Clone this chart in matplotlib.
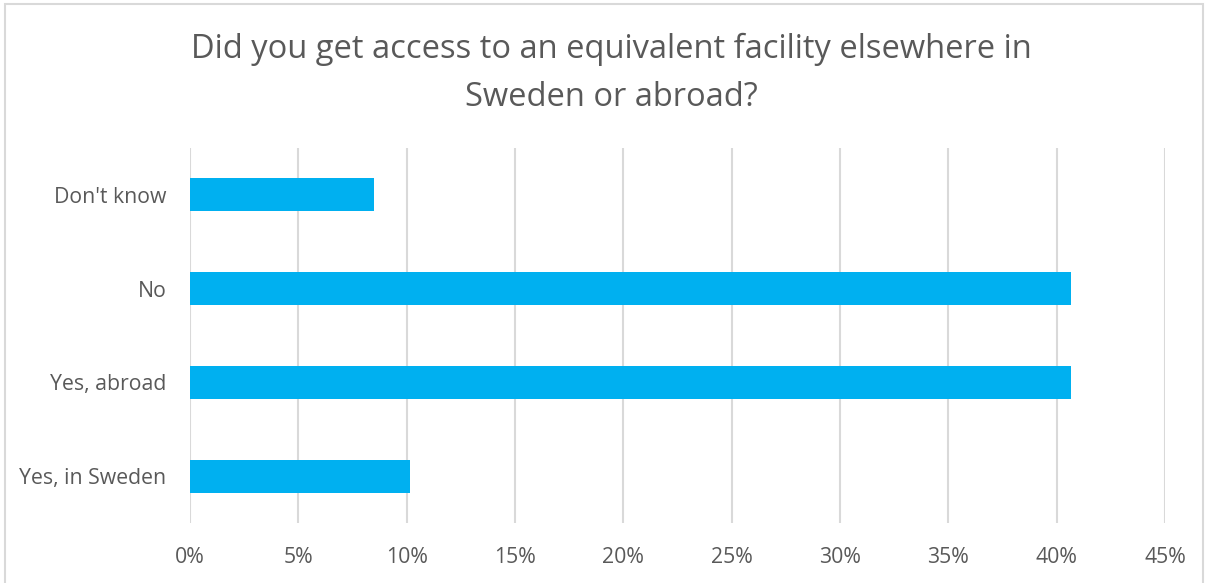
import matplotlib.pyplot as plt
from matplotlib.patches import Rectangle
from matplotlib.ticker import PercentFormatter

# survey answers (59 respondents)
categories = ["Yes, in Sweden", "Yes, abroad", "No", "Don't know"]
counts = [6, 24, 24, 5]
total = sum(counts)
shares = [c / total * 100 for c in counts]

title = "Did you get access to an equivalent facility elsewhere in\nSweden or abroad?"
text_color = "#595959"
bar_color = "#00B0F0"
grid_color = "#D9D9D9"

plt.rcParams['font.family'] = ['Open Sans', 'DejaVu Sans']

fig = plt.figure(figsize=(12.08, 5.83), dpi=100)
ax = fig.add_axes([190 / 1208, 1 - 523 / 583, 975 / 1208, 375 / 583])

ax.barh(categories, shares, height=0.35, color=bar_color, zorder=3)

ax.set_xlim(0, 45)
ax.set_ylim(-0.5, len(categories) - 0.5)
ax.set_xticks(range(0, 50, 5))
ax.xaxis.set_major_formatter(PercentFormatter(decimals=0))
ax.grid(axis='x', color=grid_color, linewidth=1.5, zorder=0)
for side in ax.spines.values():
    side.set_visible(False)
ax.tick_params(length=0, labelsize=15.3, labelcolor=text_color)
ax.tick_params(axis='x', pad=17)
ax.tick_params(axis='y', pad=17)

fig.text(0.506, 1 - 73.5 / 583, title, ha='center', va='center',
         fontsize=23.5, color=text_color, linespacing=1.6)

# outer frame of the chart area
fig.patches.append(Rectangle((5 / 1208, -0.01), 1198 / 1208, 1 - 4 / 583 + 0.01,
                             transform=fig.transFigure, fill=False,
                             edgecolor=grid_color, linewidth=1.5))

fig.savefig("out.png", dpi=100)
